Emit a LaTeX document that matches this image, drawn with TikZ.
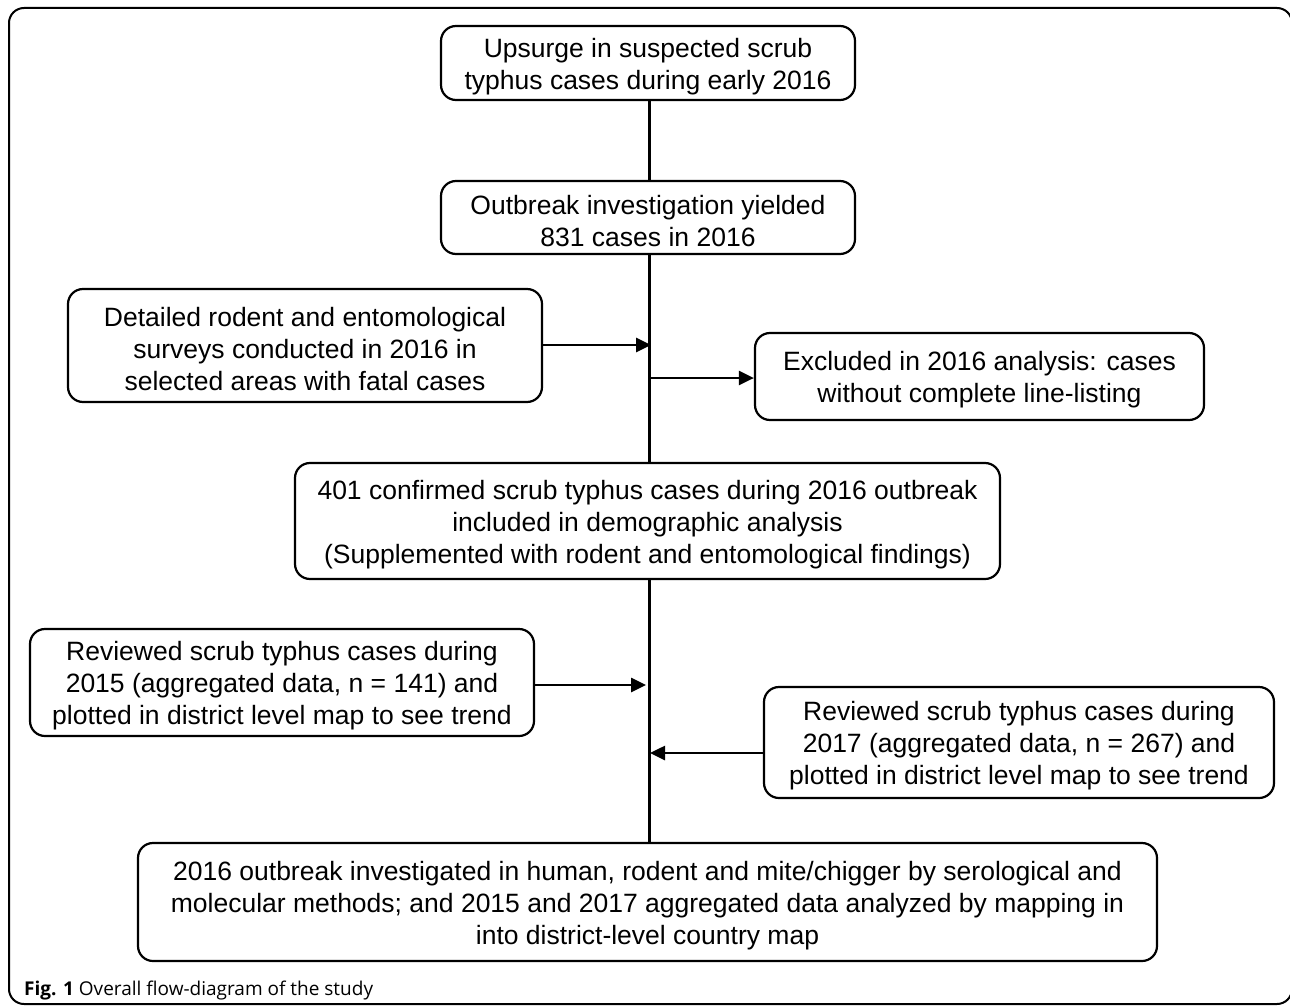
\documentclass[tikz,border=0pt]{standalone}
\usepackage{fontspec}
\setmainfont{Liberation Sans}
\newfontfamily\capfont{Open Sans}
\usetikzlibrary{arrows.meta}
\newcommand\topstrut{\rule{0pt}{26pt}}
\begin{document}
\begin{tikzpicture}[x=1pt,y=-1pt,
  flowbox/.style={draw, line width=2.2pt, rounded corners=15pt, align=center, inner sep=0pt,
    font=\fontsize{26.5}{32}\selectfont},
  trunk/.style={line width=3pt},
  arr/.style={line width=2.6pt, -{Triangle[length=15pt,width=14pt]}}]
\useasboundingbox (0,0) rectangle (1290,1006);
\begin{scope}
\clip (0,0) rectangle (1290,1006);
\draw[line width=2pt, rounded corners=15pt] (9,8) rectangle (1292,1004);
\end{scope}
\node[flowbox, minimum width=414pt, minimum height=74pt] (b1) at (648,63)
  {\topstrut Upsurge in suspected scrub\\typhus cases during early 2016};
\node[flowbox, minimum width=414pt, minimum height=73pt] (b2) at (648,217.5)
  {\topstrut Outbreak investigation yielded\\831 cases in 2016};
\node[flowbox, minimum width=474pt, minimum height=113pt] (b3) at (305,345.5)
  {\topstrut Detailed rodent and entomological\\surveys conducted in 2016 in\\selected areas with fatal cases};
\node[flowbox, minimum width=449pt, minimum height=87pt] (b4) at (979.5,376.5)
  {\topstrut Excluded in 2016 analysis: cases\\without complete line-listing};
\node[flowbox, minimum width=705pt, minimum height=116pt] (b5) at (647.5,521)
  {\topstrut 401 confirmed scrub typhus cases during 2016 outbreak\\included in demographic analysis\\(Supplemented with rodent and entomological findings)};
\node[flowbox, minimum width=504pt, minimum height=107pt] (b6) at (282,682.5)
  {\topstrut Reviewed scrub typhus cases during\\2015 (aggregated data, n = 141) and\\plotted in district level map to see trend};
\node[flowbox, minimum width=510pt, minimum height=111pt] (b7) at (1019,742.5)
  {\topstrut Reviewed scrub typhus cases during\\2017 (aggregated data, n = 267) and\\plotted in district level map to see trend};
\node[flowbox, minimum width=1019pt, minimum height=118pt] (b8) at (647.5,902)
  {\topstrut 2016 outbreak investigated in human, rodent and mite/chigger by serological and\\molecular methods; and 2015 and 2017 aggregated data analyzed by mapping in\\into district-level country map};
\node[anchor=base west, inner sep=0pt, font=\capfont\fontsize{19}{22}\selectfont] (cap) at (24,995)
  {\textbf{Fig. 1} Overall flow-diagram of the study};
% trunk
\draw[trunk] (b1.south -| 649,0) -- (b2.north -| 649,0);
\draw[trunk] (b2.south -| 649,0) -- (b5.north -| 649,0);
\draw[trunk] (b5.south -| 649,0) -- (b8.north -| 649,0);
\coordinate (t3) at (651,345);
\coordinate (t4) at (649,378);
\coordinate (t6) at (646,685);
\coordinate (t7) at (650,753);
\draw[arr] (b3.east |- t3) -- (t3);
\draw[arr] (t4) -- (b4.west |- t4);
\draw[arr] (b6.east |- t6) -- (t6);
\draw[arr] (b7.west |- t7) -- (t7);
\end{tikzpicture}
\end{document}
